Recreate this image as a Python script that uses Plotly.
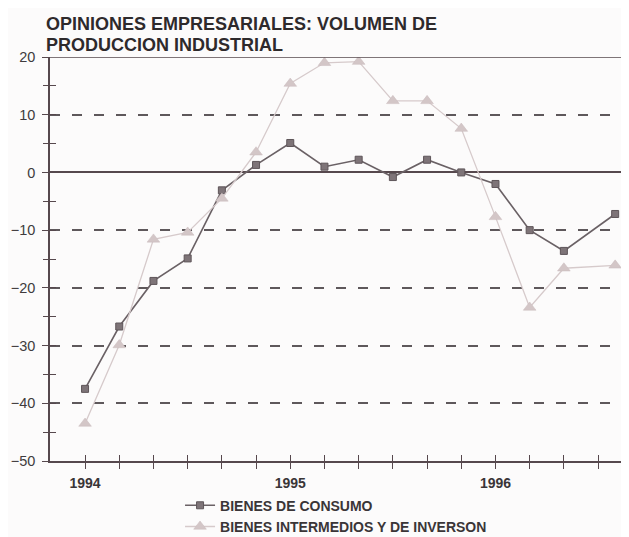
import plotly.graph_objects as go

# ---- data ----
months = [0, 2, 4, 6, 8, 10, 12, 14, 16, 18, 20, 22, 24, 26, 28, 31]  # months since Jan 1994
consumo = [-37.5, -26.7, -18.8, -14.9, -3.1, 1.3, 5.1, 1.0, 2.2, -0.8, 2.2, 0.0, -2.0, -10.0, -13.6, -7.2]
intermedios = [-43.5, -29.9, -11.6, -10.4, -4.5, 3.5, 15.4, 19.0, 19.2, 12.4, 12.4, 7.6, -7.7, -23.4, -16.6, -16.1]
tick_months = [0, 2, 4, 6, 8, 10, 12, 14, 16, 18, 20, 22, 24, 26, 28, 30]
year_labels = {0: "1994", 12: "1995", 24: "1996"}
y_ticks = [20, 10, 0, -10, -20, -30, -40, -50]
minor_y = [15, 5, -5, -15, -25, -35, -45]
title_lines = ["OPINIONES EMPRESARIALES: VOLUMEN DE", "PRODUCCION INDUSTRIAL"]
names = ["BIENES DE CONSUMO", "BIENES INTERMEDIOS Y DE INVERSON"]

AX = "#56484d"
GRID = "#5e585b"
TXT = "#3a3537"
FONT = "Liberation Sans, Arial, sans-serif"

fig = go.Figure()
fig.add_trace(go.Scatter(
    x=months, y=consumo, name=names[0], mode="lines+markers",
    line=dict(color="#6a6165", width=1.6),
    marker=dict(symbol="square", size=7, color="#7e7478", line=dict(color="#5e5559", width=1)),
    hoverinfo="skip"))
fig.add_trace(go.Scatter(
    x=months, y=intermedios, name=names[1], mode="lines+markers",
    line=dict(color="#d6cacb", width=1.3),
    marker=dict(symbol="triangle-up", size=11, color="#d3c6c7", line=dict(color="#c9bbbc", width=0.5)),
    hoverinfo="skip"))
# empty trace to activate the overlay axes (crossing tick marks)
fig.add_trace(go.Scatter(x=[], y=[], xaxis="x2", yaxis="y2", showlegend=False, hoverinfo="skip"))

xr = [-2.05, 31.75]
yr = [-50, 20]
ticktext = [year_labels.get(m, "") for m in tick_months]

# the page body adds an 8px offset, so the figure is 8px smaller and shifted
fig.update_layout(
    width=621, height=529,
    margin=dict(l=42, r=1, t=49, b=76, autoexpand=False),
    paper_bgcolor="#fcfbfb", plot_bgcolor="#fcfbfb",
    font=dict(family=FONT, color=TXT),
    xaxis=dict(range=xr, showgrid=False, zeroline=False, showline=True, linecolor=AX, linewidth=1.5,
               tickmode="array", tickvals=tick_months, ticktext=ticktext,
               ticks="outside", ticklen=6, tickwidth=1.3, tickcolor=AX,
               ticklabelstandoff=2, automargin=False,
               tickfont=dict(size=14, color=TXT, weight="bold"), fixedrange=True),
    yaxis=dict(range=yr, showline=True, linecolor=AX, linewidth=1.5,
               tickmode="array", tickvals=y_ticks, ticks="outside", ticklen=6, tickwidth=1.3, tickcolor=AX,
               showgrid=True, gridcolor=GRID, gridwidth=1.6, griddash="10px,12px",
               zeroline=True, zerolinecolor=AX, zerolinewidth=1.5,
               ticklabelstandoff=4, automargin=False,
               minor=dict(tickvals=minor_y, ticks="outside", ticklen=5, tickwidth=1.3, tickcolor=AX, showgrid=False),
               tickfont=dict(size=14.5, color="#403b3d"), fixedrange=True),
    xaxis2=dict(range=xr, overlaying="x", anchor="y2", showgrid=False, zeroline=False, showline=False,
                tickmode="array", tickvals=tick_months, ticks="inside", ticklen=6, tickwidth=1.3,
                tickcolor=AX, showticklabels=False, fixedrange=True, automargin=False),
    yaxis2=dict(range=yr, overlaying="y", anchor="x2", showgrid=False, zeroline=False, showline=False,
                tickmode="array", tickvals=minor_y + y_ticks, ticks="inside", ticklen=6, tickwidth=1.3,
                tickcolor=AX, showticklabels=False, fixedrange=True, automargin=False),
    legend=dict(x=0.225, y=-0.071, xanchor="left", yanchor="top", bgcolor="rgba(0,0,0,0)",
                font=dict(size=14, color=TXT, weight="bold"), itemwidth=30, tracegroupgap=0),
    showlegend=True,
)

# frame: top line at 20 and right border from 0 to 20
fig.add_shape(type="line", xref="paper", yref="y", x0=0, x1=1, y0=yr[1], y1=yr[1],
              line=dict(color=AX, width=1.5))
fig.add_shape(type="line", xref="paper", yref="y", x0=0.999, x1=0.999, y0=0, y1=yr[1],
              line=dict(color=AX, width=1.5))

# title, two tight lines
fig.add_annotation(text=title_lines[0], xref="paper", yref="paper", x=-0.008, y=(461 - 24) / 404,
                   xanchor="left", yanchor="middle", showarrow=False, borderpad=0,
                   font=dict(size=18, color="#2e2a2c", weight="bold", family=FONT))
fig.add_annotation(text=title_lines[1], xref="paper", yref="paper", x=-0.008, y=(461 - 45) / 404,
                   xanchor="left", yanchor="middle", showarrow=False, borderpad=0,
                   font=dict(size=18, color="#2e2a2c", weight="bold", family=FONT))

fig.write_html("out.html")
